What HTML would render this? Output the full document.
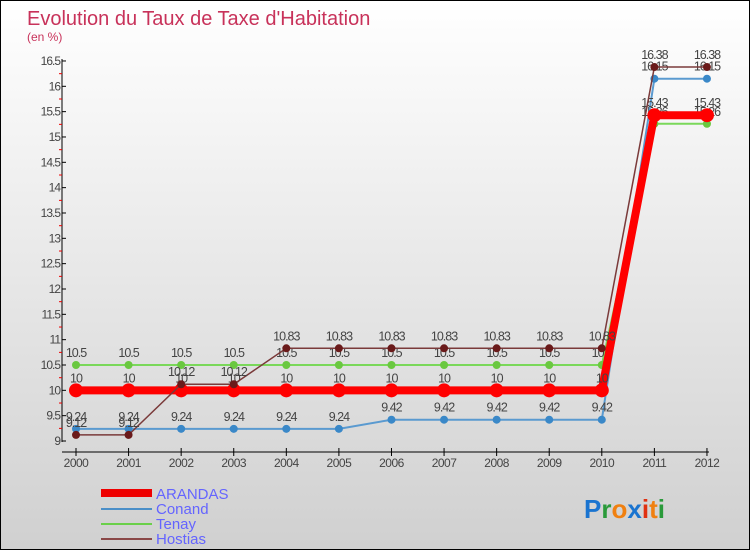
<!DOCTYPE html>
<html><head><meta charset="utf-8"><style>
body{margin:0}
#c{position:relative;width:748px;height:548px;border:1px solid #000;background:linear-gradient(#fff,#d0d0d0);font-family:"Liberation Sans",sans-serif;overflow:hidden}
</style></head><body>
<div id="c">
<svg id="s" width="748" height="548" style="position:absolute;left:0;top:0">
<text x="26" y="24" font-size="20" fill="#c8325a">Evolution du Taux de Taxe d'Habitation</text>
<text x="26" y="40" font-size="12" fill="#c8325a">(en %)</text>
<g id="axes"></g><g id="series"></g>
<g>
<rect x="100" y="488" width="51" height="8" fill="#e00"/>
<text x="155" y="498" font-size="15" fill="#6464ff">ARANDAS</text>
<line x1="100" y1="508" x2="151" y2="508" stroke="#4b8fc8" stroke-width="2"/>
<text x="155" y="513" font-size="15" fill="#6464ff">Conand</text>
<line x1="100" y1="523" x2="151" y2="523" stroke="#6ad04a" stroke-width="2"/>
<text x="155" y="528" font-size="15" fill="#6464ff">Tenay</text>
<line x1="100" y1="538" x2="151" y2="538" stroke="#8a4848" stroke-width="2"/>
<text x="155" y="543" font-size="15" fill="#6464ff">Hostias</text>
</g>
<g font-size="26" font-weight="bold">
<text x="583" y="517"><tspan fill="#1a74d0">P</tspan><tspan fill="#2a9a3a">r</tspan><tspan fill="#f08010">o</tspan><tspan fill="#1a74d0">x</tspan><tspan fill="#e03010">i</tspan><tspan fill="#f08010">t</tspan><tspan fill="#2a9a3a">i</tspan></text>
</g>
</svg>
</div>
<script>
const years=[2000,2001,2002,2003,2004,2005,2006,2007,2008,2009,2010,2011,2012];
const arandas=[10,10,10,10,10,10,10,10,10,10,10,15.43,15.43];
const conand=[9.24,9.24,9.24,9.24,9.24,9.24,9.42,9.42,9.42,9.42,9.42,16.15,16.15];
const tenay=[10.5,10.5,10.5,10.5,10.5,10.5,10.5,10.5,10.5,10.5,10.5,15.26,15.26];
const hostias=[9.12,9.12,10.12,10.12,10.83,10.83,10.83,10.83,10.83,10.83,10.83,16.38,16.38];
const yTicks=[9,9.5,10,10.5,11,11.5,12,12.5,13,13.5,14,14.5,15,15.5,16,16.5];
const NS="http://www.w3.org/2000/svg";
const X=i=>75+i*52.58, Y=v=>440-(v-9)*50.67;
function mk(t,a,p){const e=document.createElementNS(NS,t);for(const k in a)e.setAttribute(k,a[k]);p.appendChild(e);return e;}
const ax=document.getElementById('axes'),sg=document.getElementById('series');
let l=mk('line',{x1:61,y1:58,x2:61,y2:441,stroke:'#000'},ax);


l=mk('line',{x1:61,y1:451,x2:708,y2:451,stroke:'#000'},ax);


yTicks.forEach((v,k)=>{const y=Y(v);
 mk('line',{x1:61,y1:y,x2:65,y2:y,stroke:'#000'},ax);
 if(k>0)mk('line',{x1:58,y1:y+12.7,x2:61,y2:y+12.7,stroke:'#e00'},ax);
 const t=mk('text',{x:59,y:y+4,'font-size':12,fill:'#444','text-anchor':'end','letter-spacing':'-1'},ax);t.textContent=v;
 
 });
years.forEach((yr,i)=>{const x=X(i);
 mk('line',{x1:x,y1:447,x2:x,y2:455,stroke:'#000'},ax);
 const t=mk('text',{x:x,y:466,'font-size':12,fill:'#444','text-anchor':'middle','letter-spacing':'-0.5'},ax);t.textContent=yr;
 
 });
function draw(name,data,col,w,r,pc){
 const g=mk('g',{},sg);
 
 
 mk('polyline',{points:data.map((v,i)=>X(i)+','+Y(v)).join(' '),fill:'none',stroke:col,'stroke-width':w},g);
 data.forEach((v,i)=>{const c=mk('circle',{cx:X(i),cy:Y(v),r:r,fill:pc},g);
  
  
  const t=mk('text',{x:X(i),y:Y(v)-8,'font-size':12.5,fill:'#444','text-anchor':'middle','letter-spacing':'-1'},g);t.textContent=v;});
}
draw('tenay',tenay,'#7ad85a',2,4,'#6ac840');
draw('conand',conand,'#5a9ad0',2,4,'#3a88c8');
draw('arandas',arandas,'#f00',8,7,'#f00');
draw('hostias',hostias,'#7a3a3a',1.5,4,'#6a1a1a');
</script>
</body></html>
